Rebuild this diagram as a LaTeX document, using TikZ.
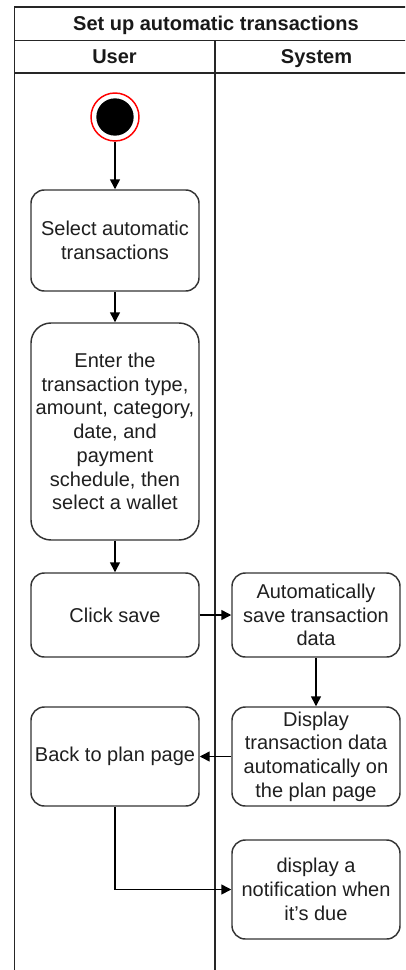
\documentclass[tikz,border=0pt]{standalone}
\usepackage{fontspec}
\setmainfont{Liberation Sans}
\usetikzlibrary{arrows.meta}
\begin{document}
\begin{tikzpicture}[x=0.75pt,y=-0.75pt,
  lane/.style={draw=black!85, line width=1.1pt},
  act/.style={draw=black!80, line width=1.1pt, rounded corners=10pt, fill=white,
    minimum width=126pt, inner sep=0pt, align=center,
    font=\fontsize{15}{17.8}\selectfont, text=black!88},
  flow/.style={draw=black, line width=1.1pt,
    -{Triangle[length=7.5pt,width=7.5pt]}},
  head/.style={font=\bfseries\fontsize{15}{18}\selectfont, text=black!90,
    inner sep=0pt, text height=10.7pt, text depth=0pt}
]
\clip (0,0) rectangle (405,970);

% swimlane frame
\draw[lane] (14.5,990) -- (14.5,7) -- (420,7) -- (420,990);
\draw[lane] (14.5,40.5) -- (420,40.5);
\draw[lane] (14.5,73) -- (420,73);
\draw[lane] (215,40.5) -- (215,990);

\node[head] (title) at (216,23.5) {Set up automatic transactions};
\node[head] (user) at (114.5,56.5) {User};
\node[head] (system) at (316.5,56.5) {System};

% initial state
\node[circle, draw=red, line width=1.1pt, fill=white, minimum size=36pt, inner sep=0pt] (start) at (115,117) {};
\node[circle, fill=black, minimum size=28pt, inner sep=0pt] (startdot) at (start.center) {};

% activities
\node[act, minimum height=75.75pt] (b1) at (115,240.5) {Select automatic\\transactions};
\node[act, rounded corners=15pt, minimum height=162.75pt] (b2) at (115,431.5)
  {Enter the\\transaction type,\\amount, category,\\date, and\\payment\\schedule, then\\select a wallet};
\node[act, minimum height=63pt] (b3) at (115,615) {Click save};
\node[act, minimum height=63pt] (b4) at (316,615) {Automatically\\save transaction\\data};
\node[act, minimum height=74.25pt] (b5) at (316,756.5) {Display\\transaction data\\automatically on\\the plan page};
\node[act, minimum height=74.25pt] (b6) at (115,756.5) {Back to plan page};
\node[act, minimum height=74.25pt] (b7) at (316,889.5) {display a\\notification when\\it's due};

% control flow
\draw[flow] (start) -- (b1);
\draw[flow] (b1) -- (b2);
\draw[flow] (b2) -- (b3);
\draw[flow] (b3) -- (b4);
\draw[flow] (b4) -- (b5);
\draw[flow] (b5) -- (b6);
\draw[flow] (b6) |- (b7);
\end{tikzpicture}
\end{document}
